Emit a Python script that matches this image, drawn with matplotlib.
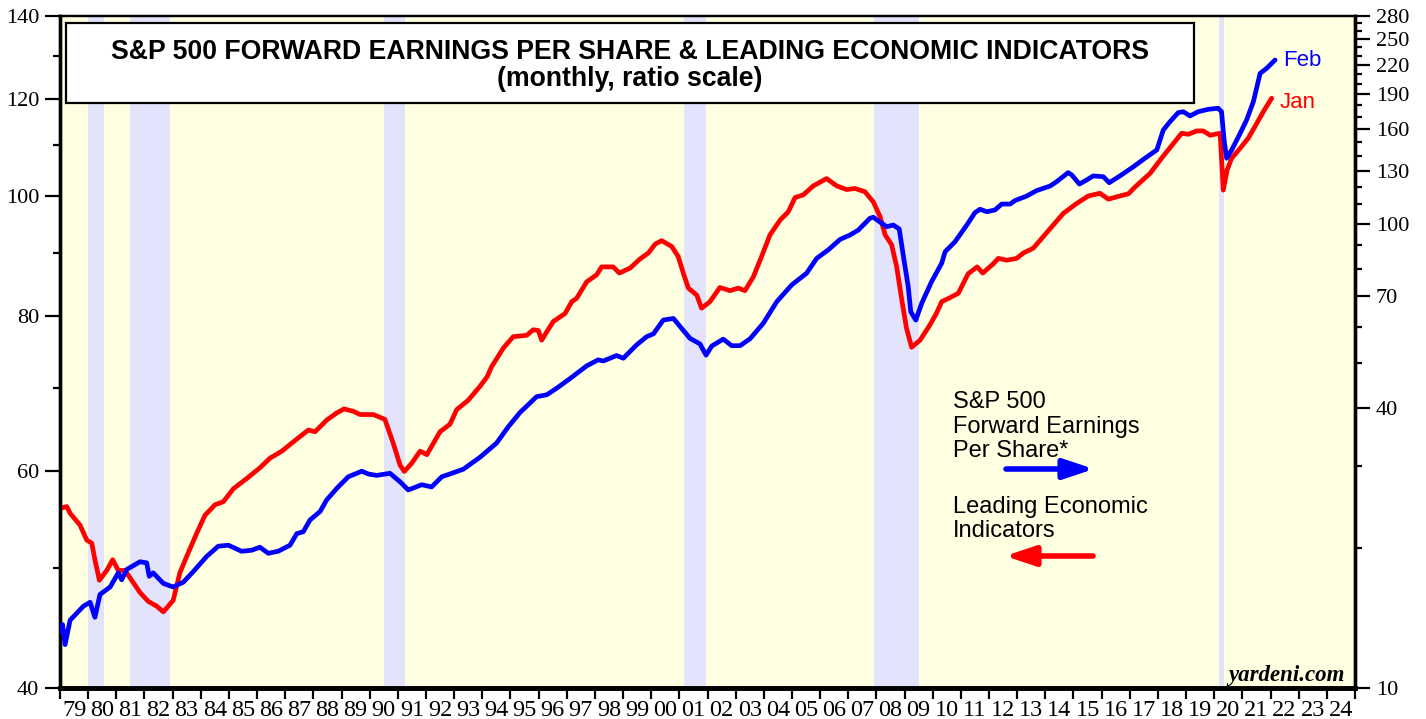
import matplotlib
matplotlib.use('Agg')
import matplotlib.pyplot as plt
from matplotlib.patches import Rectangle, FancyArrowPatch
from matplotlib.ticker import NullFormatter

# Leading Economic Indicators (left axis)
lei_dates = [1979.00, 1979.24, 1979.36, 1979.71, 1979.95, 1980.13, 1980.24, 1980.40, 1980.66, 1980.87,
             1981.07, 1981.31, 1981.60, 1981.84, 1982.14, 1982.43, 1982.67, 1983.02, 1983.26, 1983.56,
             1983.86, 1984.15, 1984.51, 1984.80, 1985.16, 1985.63, 1986.10, 1986.46, 1986.88, 1987.29,
             1987.82, 1988.06, 1988.47, 1988.83, 1989.09, 1989.42, 1989.66, 1990.13, 1990.54, 1990.84,
             1991.08, 1991.23, 1991.49, 1991.79, 1992.03, 1992.26, 1992.50, 1992.85, 1993.09, 1993.50,
             1993.92, 1994.18, 1994.33, 1994.75, 1995.10, 1995.58, 1995.81, 1995.99, 1996.11, 1996.29,
             1996.52, 1996.94, 1997.18, 1997.35, 1997.71, 1998.06, 1998.24, 1998.65, 1998.87, 1999.25,
             1999.60, 1999.90, 2000.14, 2000.37, 2000.73, 2000.96, 2001.14, 2001.32, 2001.62, 2001.79,
             2002.09, 2002.44, 2002.80, 2003.09, 2003.33, 2003.63, 2003.92, 2004.22, 2004.58, 2004.87,
             2005.11, 2005.40, 2005.76, 2006.23, 2006.59, 2006.94, 2007.24, 2007.59, 2007.89, 2008.13,
             2008.31, 2008.54, 2008.72, 2008.90, 2009.07, 2009.25, 2009.55, 2009.90, 2010.14, 2010.32,
             2010.61, 2010.91, 2011.26, 2011.58, 2011.78, 2012.15, 2012.33, 2012.63, 2012.98, 2013.22,
             2013.57, 2013.93, 2014.28, 2014.64, 2015.11, 2015.53, 2015.94, 2016.24, 2016.65, 2016.95,
             2017.19, 2017.72, 2018.13, 2018.55, 2018.84, 2019.08, 2019.38, 2019.61, 2019.85, 2020.21,
             2020.32, 2020.46, 2020.62, 2020.92, 2021.21, 2021.51, 2021.74, 2022.04]
lei_values = [55.9, 56.1, 55.4, 54.2, 52.7, 52.4, 50.8, 48.9, 49.8, 50.8,
              49.8, 49.8, 48.7, 47.8, 47.0, 46.6, 46.1, 47.1, 49.6, 51.5,
              53.4, 55.2, 56.3, 56.6, 58.0, 59.1, 60.3, 61.4, 62.2, 63.3,
              64.7, 64.5, 65.9, 66.8, 67.3, 67.0, 66.6, 66.6, 66.0, 63.1,
              60.6, 59.9, 60.8, 62.2, 61.8, 63.1, 64.5, 65.4, 67.2, 68.4,
              70.2, 71.5, 72.8, 75.4, 77.0, 77.2, 78.0, 77.9, 76.5, 77.7,
              79.2, 80.4, 82.2, 82.7, 85.3, 86.4, 87.7, 87.7, 86.7, 87.5,
              89.0, 90.0, 91.5, 92.1, 91.1, 89.4, 86.7, 84.3, 83.2, 81.2,
              82.2, 84.4, 83.9, 84.3, 83.9, 86.1, 89.4, 93.1, 95.7, 97.2,
              99.8, 100.3, 102.0, 103.4, 102.0, 101.3, 101.5, 100.9, 99.0, 96.3,
              93.1, 91.4, 87.7, 82.5, 78.2, 75.5, 76.5, 78.7, 80.5, 82.2,
              82.8, 83.5, 86.6, 87.7, 86.7, 88.2, 89.1, 88.8, 89.1, 90.0,
              90.8, 92.8, 94.8, 96.9, 98.7, 100.1, 100.6, 99.5, 100.1, 100.5,
              101.8, 104.4, 107.4, 110.4, 112.5, 112.3, 113.0, 113.0, 112.1, 112.5,
              101.2, 105.1, 107.4, 109.4, 111.5, 114.6, 117.1, 120.1]

# S&P 500 forward earnings per share (right axis)
eps_dates = [1979.00, 1979.09, 1979.18, 1979.36, 1979.83, 1980.07, 1980.24, 1980.42, 1980.78, 1981.07,
             1981.19, 1981.37, 1981.84, 1982.08, 1982.17, 1982.31, 1982.67, 1983.02, 1983.38, 1983.73,
             1984.21, 1984.62, 1984.98, 1985.45, 1985.81, 1986.10, 1986.40, 1986.75, 1987.17, 1987.41,
             1987.64, 1987.88, 1988.24, 1988.47, 1988.83, 1989.24, 1989.72, 1989.95, 1990.25, 1990.72,
             1991.08, 1991.37, 1991.85, 1992.20, 1992.56, 1992.85, 1993.33, 1993.92, 1994.51, 1994.92,
             1995.34, 1995.93, 1996.29, 1996.64, 1997.12, 1997.71, 1998.12, 1998.30, 1998.77, 1999.01,
             1999.48, 1999.84, 2000.08, 2000.43, 2000.79, 2001.08, 2001.38, 2001.73, 2001.95, 2002.15,
             2002.56, 2002.86, 2003.16, 2003.51, 2003.98, 2004.46, 2004.99, 2005.52, 2005.88, 2006.29,
             2006.71, 2007.06, 2007.36, 2007.77, 2007.89, 2008.36, 2008.60, 2008.81, 2008.98, 2009.13,
             2009.22, 2009.40, 2009.61, 2009.96, 2010.32, 2010.44, 2010.79, 2011.21, 2011.50, 2011.68,
             2011.92, 2012.21, 2012.45, 2012.75, 2012.92, 2013.34, 2013.69, 2014.17, 2014.40, 2014.81,
             2014.94, 2015.21, 2015.47, 2015.70, 2016.06, 2016.27, 2016.65, 2017.13, 2017.54, 2017.96,
             2018.19, 2018.43, 2018.72, 2018.90, 2019.14, 2019.43, 2019.79, 2020.14, 2020.26, 2020.35,
             2020.44, 2020.62, 2020.92, 2021.15, 2021.39, 2021.63, 2021.86, 2022.16]
eps_values = [13.2, 13.7, 12.4, 14.0, 15.0, 15.3, 14.2, 15.9, 16.5, 17.7,
              17.1, 18.0, 18.7, 18.6, 17.4, 17.7, 16.8, 16.5, 16.9, 17.8,
              19.2, 20.2, 20.3, 19.7, 19.8, 20.1, 19.5, 19.7, 20.3, 21.5,
              21.7, 23.0, 24.0, 25.4, 26.9, 28.5, 29.3, 28.9, 28.7, 29.0,
              27.8, 26.7, 27.4, 27.1, 28.5, 28.9, 29.6, 31.4, 33.7, 36.5,
              39.2, 42.4, 42.8, 44.2, 46.4, 49.4, 50.9, 50.6, 52.0, 51.3,
              54.8, 57.1, 57.9, 62.0, 62.5, 59.5, 56.6, 55.1, 52.1, 54.5,
              56.4, 54.6, 54.6, 56.5, 61.0, 67.9, 73.8, 78.2, 84.2, 87.8,
              92.5, 94.5, 96.9, 102.7, 103.2, 98.5, 99.3, 97.4, 83.5, 73.2,
              64.6, 62.0, 67.4, 75.0, 82.2, 87.0, 91.4, 99.3, 105.6, 107.4,
              106.1, 107.0, 110.2, 110.2, 112.1, 114.7, 117.8, 120.5, 123.1, 128.8,
              127.3, 121.7, 124.2, 126.7, 126.2, 122.5, 126.7, 132.6, 138.3, 144.1,
              159.1, 165.8, 173.4, 174.2, 170.6, 174.2, 176.3, 177.2, 174.2, 151.4,
              138.3, 144.1, 156.5, 167.2, 183.1, 210.7, 216.0, 225.1]

recessions = [(1980.00, 1980.56), (1981.49, 1982.91), (1990.51, 1991.26),
              (2001.17, 2001.95), (2007.92, 2009.51), (2020.17, 2020.36)]

left_major = [40, 60, 80, 100, 120, 140]
left_minor = [50, 70, 90, 110, 130]
right_major = [10, 40, 70, 100, 130, 160, 190, 220, 250, 280]
right_minor = [20, 30, 50, 60, 80, 90, 110, 120, 140, 150, 170, 180,
               200, 210, 230, 240, 260, 270]
year_ticks = list(range(1979, 2026))
year_labels = [f"{y % 100:02d}" for y in range(1979, 2025)]

plt.rcParams['font.family'] = ['Liberation Serif', 'DejaVu Serif']
SANS = ['Liberation Sans', 'DejaVu Sans']
W, H = 1426, 719


def fx(px):
    return px / W


def fy(py):
    return 1 - py / H


fig = plt.figure(figsize=(W / 100, H / 100), dpi=100)
ax = fig.add_axes([fx(60), fy(688), 1295 / W, 672 / H])
ax.set_facecolor('#FFFFE2')
for start, end in recessions:
    ax.axvspan(start, end, color='#E3E3FB', lw=0, zorder=0)

ax.plot(lei_dates, lei_values, color='#FF0000', lw=3.4, solid_joinstyle='round',
        solid_capstyle='round', zorder=3)
ax.set_yscale('log')
ax.set_ylim(40, 140)
ax.set_xlim(1979, 2025)
ax.set_yticks(left_major, labels=[str(v) for v in left_major])
ax.set_yticks(left_minor, minor=True)
ax.yaxis.set_minor_formatter(NullFormatter())

ax.set_xticks(year_ticks, labels=[''] * len(year_ticks))
ax.set_xticks([y + 0.5 for y in year_ticks[:-1]], labels=year_labels, minor=True)
ax.tick_params(axis='x', which='major', direction='out', length=8, width=1.6)
ax.tick_params(axis='x', which='minor', length=0, pad=9, labelsize=17.5)
ax.tick_params(axis='y', which='major', direction='out', length=11, width=1.6,
               labelsize=16, pad=4)
ax.tick_params(axis='y', which='minor', direction='out', length=5, width=1.6)

ax2 = ax.twinx()
ax2.plot(eps_dates, eps_values, color='#0000FF', lw=3.4, solid_joinstyle='round',
         solid_capstyle='round', zorder=3)
ax2.set_yscale('log')
ax2.set_ylim(10, 280)
ax2.set_yticks(right_major, labels=[str(v) for v in right_major])
ax2.set_yticks(right_minor, minor=True)
ax2.yaxis.set_minor_formatter(NullFormatter())
ax2.tick_params(axis='y', which='major', direction='out', length=11, width=1.6,
                labelsize=16, pad=4)
ax2.tick_params(axis='y', which='minor', direction='out', length=5, width=1.6)

for a in (ax, ax2):
    a.spines['left'].set_linewidth(2.4)
    a.spines['right'].set_linewidth(2.4)
    a.spines['top'].set_linewidth(1.6)
    a.spines['bottom'].set_linewidth(3.3)

# title box
fig.add_artist(Rectangle((fx(66), fy(103)), 1128 / W, 80 / H, transform=fig.transFigure,
                         facecolor='white', edgecolor='black', lw=1.6, zorder=5))
fig.text(fx(630), fy(59), 'S&P 500 FORWARD EARNINGS PER SHARE & LEADING ECONOMIC INDICATORS',
         ha='center', va='baseline', family=SANS, weight='bold', fontsize=19.2, zorder=6)
fig.text(fx(630), fy(86), '(monthly, ratio scale)', ha='center', va='baseline',
         family=SANS, weight='bold', fontsize=19.2, zorder=6)

# end labels
fig.text(fx(1283), fy(66), 'Feb', color='#0000FF', family=SANS, fontsize=16, va='baseline', zorder=6)
fig.text(fx(1280), fy(108), 'Jan', color='#FF0000', family=SANS, fontsize=16, va='baseline', zorder=6)

# legend-like annotations
for txt, base in [('S&P 500', 408), ('Forward Earnings', 433), ('Per Share*', 457),
                  ('Leading Economic', 513), ('Indicators', 537)]:
    fig.text(fx(953), fy(base), txt, family=SANS, fontsize=17, va='baseline', zorder=6)

fig.add_artist(FancyArrowPatch((fx(1006), fy(469)), (fx(1094), fy(469)),
                               transform=fig.transFigure, color='#0000FF', lw=4,
                               arrowstyle='-|>,head_length=0.9,head_width=0.3',
                               mutation_scale=20, shrinkA=0, shrinkB=0, capstyle='round',
                               zorder=6))
fig.add_artist(FancyArrowPatch((fx(1093), fy(556)), (fx(1005), fy(556)),
                               transform=fig.transFigure, color='#FF0000', lw=4,
                               arrowstyle='-|>,head_length=0.9,head_width=0.3',
                               mutation_scale=20, shrinkA=0, shrinkB=0, capstyle='round',
                               zorder=6))

fig.text(fx(1345), fy(681), 'yardeni.com', ha='right', va='baseline', style='italic',
         weight='bold', fontsize=16.5, zorder=6)

fig.savefig('out.png', dpi=100)
